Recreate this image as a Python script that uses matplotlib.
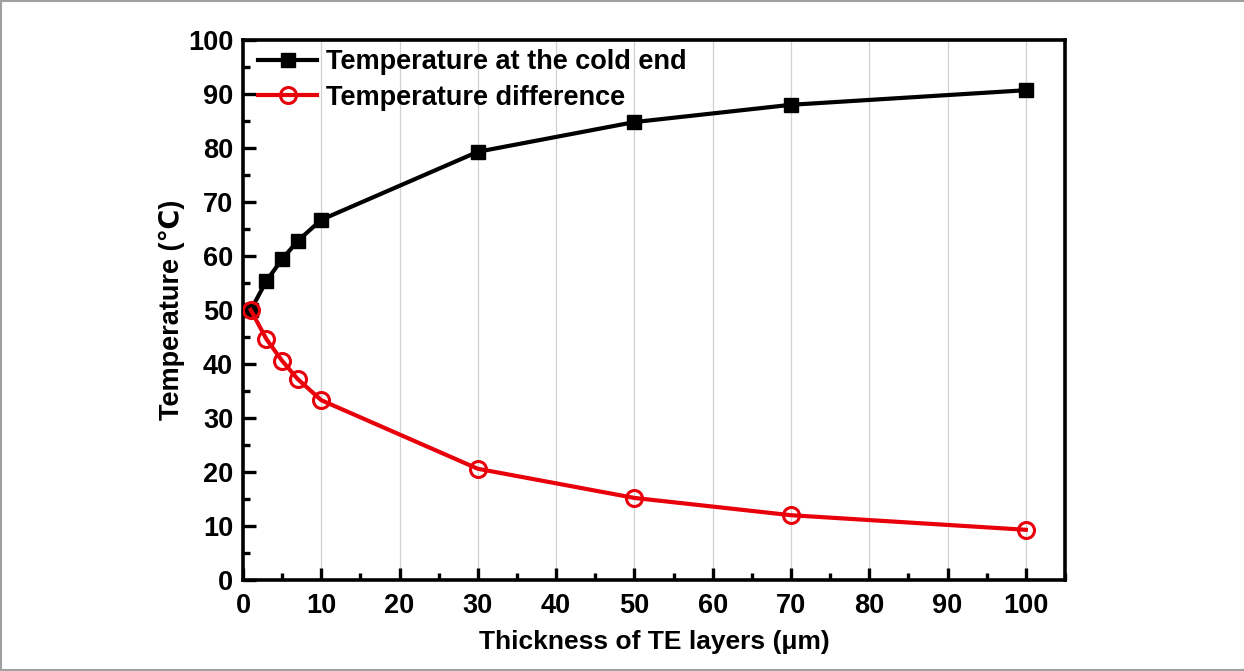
import matplotlib.pyplot as plt
from matplotlib.lines import Line2D
from matplotlib.ticker import MultipleLocator

plt.rcParams['font.family'] = ['Liberation Sans', 'DejaVu Sans']
plt.rcParams['font.weight'] = 'bold'

# thickness of TE layers (um)
thickness = [1, 3, 5, 7, 10, 30, 50, 70, 100]
t_cold = [50.0, 55.4, 59.4, 62.8, 66.7, 79.3, 84.8, 88.0, 90.7]
t_diff = [50.0, 44.6, 40.6, 37.2, 33.3, 20.6, 15.2, 12.0, 9.3]

fig = plt.figure(figsize=(12.44, 6.71), dpi=100)
ax = fig.add_axes([0.1953, 0.1356, 0.6608, 0.8048])

ax.plot(thickness, t_cold, color='black', lw=3, marker='s', ms=10.5,
        label='Temperature at the cold end', zorder=3)
ax.plot(thickness, t_diff, color='#e8000b', lw=3, marker='o', ms=11.5,
        mfc='none', mew=2.2, label='Temperature difference', zorder=3)

ax.set_xlim(0, 105)
ax.set_ylim(0, 100)
ax.xaxis.set_major_locator(MultipleLocator(10))
ax.xaxis.set_minor_locator(MultipleLocator(5))
ax.yaxis.set_major_locator(MultipleLocator(10))
ax.yaxis.set_minor_locator(MultipleLocator(5))
ax.grid(axis='x', which='major', color='#d0d0d0', lw=0.9, zorder=0)

ax.tick_params(which='both', direction='in', width=2.4, labelsize=19.5,
               top=False, right=False)
ax.tick_params(which='major', length=9, pad=7)
ax.tick_params(axis='x', which='major', pad=9)
ax.tick_params(which='minor', length=5)
for lab in ax.get_xticklabels() + ax.get_yticklabels():
    lab.set_fontweight('bold')
for sp in ax.spines.values():
    sp.set_linewidth(2.6)

ax.set_xlabel('Thickness of TE layers (\u03bcm)', fontsize=19, fontweight='bold', labelpad=8)
ax.set_ylabel('Temperature (\u2103)', fontsize=19.5, fontweight='bold', labelpad=2)

leg = ax.legend(loc='upper left', bbox_to_anchor=(0.0, 1.01), frameon=False,
                fontsize=19.5, handlelength=2.2, borderaxespad=0.15,
                labelspacing=0.35, handletextpad=0.3)
for t in leg.get_texts():
    t.set_fontweight('bold')

# thin frame on the left, top and bottom of the figure
frame = dict(color='#a0a0a0', lw=1.5, transform=fig.transFigure)
fig.add_artist(Line2D([0.001, 0.001], [0.002, 0.998], **frame))
fig.add_artist(Line2D([0.001, 1.0], [0.998, 0.998], **frame))
fig.add_artist(Line2D([0.001, 1.0], [0.002, 0.002], **frame))

fig.savefig('out.png', dpi=100)
